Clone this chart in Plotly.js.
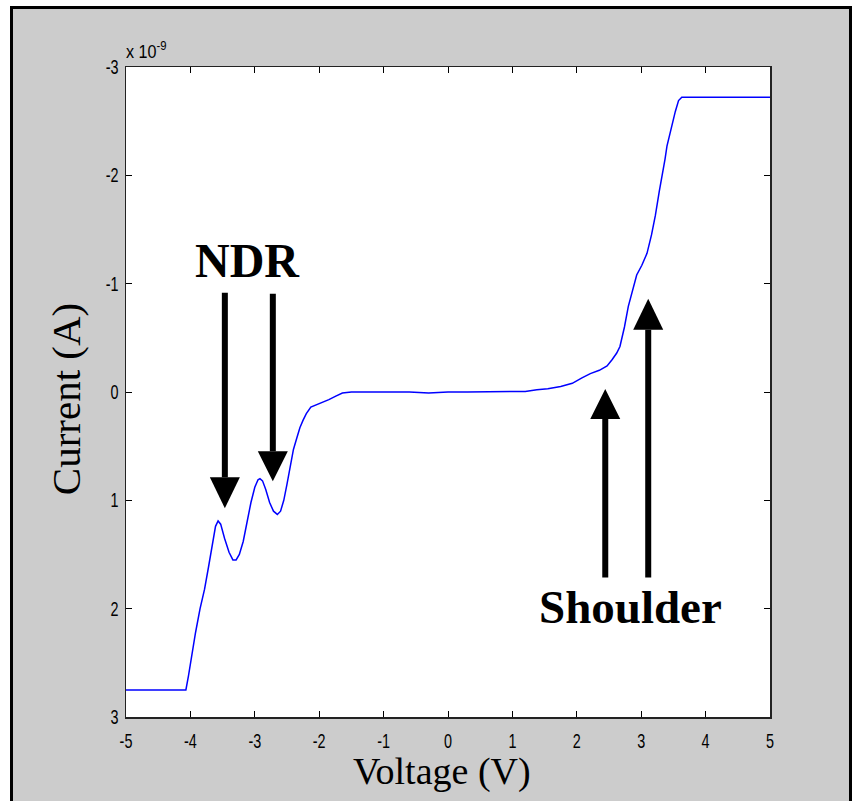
<!DOCTYPE html>
<html>
<head>
<meta charset="utf-8">
<script src="https://cdn.plot.ly/plotly-3.0.1.min.js"></script>
<style>
  html, body { margin: 0; padding: 0; background: #ffffff; width: 856px; height: 801px; overflow: hidden; }
  #frame { position: absolute; left: 10px; top: 6px; width: 836px; height: 800px;
           border-left: 3px solid #000; border-top: 3px solid #000; border-right: 3px solid #000;
           background: #cccccc; }
  #chart { position: absolute; left: 0; top: 0; width: 836px; height: 792px; }
</style>
</head>
<body>
<div id="frame"><div id="chart"></div></div>
<script>
// Voltage (V)
const voltage = [-5, -4.07, -4.03, -3.98, -3.92, -3.85, -3.78, -3.72, -3.66, -3.61, -3.57, -3.53, -3.47, -3.40, -3.34, -3.29, -3.24, -3.18, -3.12, -3.06, -3.0, -2.95, -2.92, -2.88, -2.83, -2.77, -2.71, -2.65, -2.60, -2.55, -2.50, -2.45, -2.40, -2.35, -2.30, -2.25, -2.20, -2.13, -2.05, -1.95, -1.85, -1.75, -1.64, -1.5, -1.2, -0.9, -0.6, -0.3, 0, 0.3, 0.6, 0.9, 1.2, 1.38, 1.55, 1.75, 1.93, 2.08, 2.21, 2.35, 2.47, 2.55, 2.62, 2.67, 2.74, 2.80, 2.87, 2.93, 3.01, 3.09, 3.16, 3.22, 3.28, 3.32, 3.37, 3.40, 3.47, 3.53, 3.58, 3.63, 5];
// Current (units of 1e-9 A)
const current = [2.75, 2.75, 2.62, 2.42, 2.22, 2.0, 1.82, 1.62, 1.39, 1.24, 1.19, 1.22, 1.35, 1.48, 1.55, 1.55, 1.50, 1.38, 1.20, 1.02, 0.88, 0.81, 0.80, 0.82, 0.90, 1.02, 1.10, 1.13, 1.10, 1.00, 0.85, 0.68, 0.53, 0.43, 0.33, 0.26, 0.20, 0.14, 0.12, 0.10, 0.07, 0.04, 0.01, 0.0, 0.0, 0.005, 0.0, 0.01, 0.0, 0.0, 0.0, 0.0, -0.005, -0.02, -0.03, -0.05, -0.08, -0.13, -0.17, -0.20, -0.24, -0.30, -0.36, -0.42, -0.60, -0.79, -0.95, -1.08, -1.17, -1.28, -1.45, -1.63, -1.85, -1.97, -2.15, -2.27, -2.45, -2.59, -2.69, -2.72, -2.72];

const xTicks = [-5, -4, -3, -2, -1, 0, 1, 2, 3, 4, 5];
const yTicks = [-3, -2, -1, 0, 1, 2, 3];

// Annotation arrows: [x, tail y, head base y, tip y]
const arrowX = [-3.465, -2.72, 2.442, 3.109];
const arrowTail = [-0.917, -0.907, 1.713, 1.713];
const arrowBase = [0.787, 0.546, 0.25, -0.574];
const arrowTip = [1.074, 0.824, -0.028, -0.861];
const headHalf = 0.233;

const shapes = [];
for (let i = 0; i < arrowX.length; i++) {
  shapes.push({type: 'line', xref: 'x', yref: 'y', x0: arrowX[i], x1: arrowX[i], y0: arrowTail[i], y1: arrowBase[i],
               line: {color: '#000', width: 6}});
  shapes.push({type: 'path', xref: 'x', yref: 'y',
               path: `M ${arrowX[i]-headHalf},${arrowBase[i]} L ${arrowX[i]+headHalf},${arrowBase[i]} L ${arrowX[i]},${arrowTip[i]} Z`,
               fillcolor: '#000', line: {color: '#000', width: 0}});
}

const sans = 'Liberation Sans, Arial, sans-serif';
const tickFont = {family: sans, size: 20, color: '#000'};
const serif = 'Liberation Serif, Times New Roman, serif';

const trace = {x: voltage, y: current, type: 'scatter', mode: 'lines',
               line: {color: '#0000ff', width: 1.5}, hoverinfo: 'skip'};

const layout = {
  width: 836, height: 792,
  paper_bgcolor: '#cccccc', plot_bgcolor: '#ffffff',
  margin: {l: 113, r: 79, t: 58, b: 84},
  showlegend: false,
  xaxis: {range: [-5, 5], tickvals: xTicks, ticktext: xTicks.map(String), ticks: 'inside', ticklen: 6,
          tickcolor: '#000', showline: true, linecolor: '#222', linewidth: 1.5, mirror: 'ticks',
          showgrid: false, zeroline: false, tickfont: tickFont, ticklabelstandoff: 6},
  yaxis: {range: [3, -3], tickvals: yTicks, ticktext: yTicks.map(String), ticks: 'inside', ticklen: 6,
          tickcolor: '#000', showline: true, linecolor: '#222', linewidth: 1.5, mirror: 'ticks',
          showgrid: false, zeroline: false, tickfont: tickFont, ticklabelstandoff: 2},
  shapes: shapes,
  annotations: [
    {text: 'x 10<sup>-9</sup>', xref: 'paper', yref: 'paper', x: 0, y: 1, xanchor: 'left', yanchor: 'bottom',
     xshift: -2, yshift: 3, showarrow: false, font: {family: sans, size: 19, color: '#000'}},
    {text: '<b>NDR</b>', xref: 'x', yref: 'y', x: -3.11, y: -1.21, showarrow: false,
     font: {family: serif, size: 48, color: '#000'}},
    {text: '<b>Shoulder</b>', xref: 'x', yref: 'y', x: 2.83, y: 1.98, showarrow: false,
     font: {family: serif, size: 47, color: '#000'}},
    // axis titles
    {text: 'Voltage (V)', xref: 'paper', yref: 'paper', x: 0.5, y: 0, xanchor: 'center', yanchor: 'middle',
     xshift: -6, yshift: -54, showarrow: false, font: {family: serif, size: 38, color: '#000'}},
    {text: 'Current (A)', xref: 'paper', yref: 'paper', x: 0, y: 0.489, xanchor: 'center', yanchor: 'middle',
     xshift: -60, textangle: -90, showarrow: false, font: {family: serif, size: 41, color: '#000'}}
  ]
};

function condense(nodes, s, anchor) {
  nodes.forEach(t => {
    const b = t.getBBox();
    const cx = anchor === 'left' ? b.x : anchor === 'right' ? b.x + b.width : b.x + b.width / 2;
    const prev = t.getAttribute('transform') || '';
    t.setAttribute('transform', (prev + ` matrix(${s},0,0,1,${cx * (1 - s)},0)`).trim());
  });
}

Plotly.newPlot('chart', [trace], layout, {displayModeBar: false, staticPlot: true}).then(() => {
  condense(document.querySelectorAll('.xtick text'), 0.72, 'center');
  condense(document.querySelectorAll('.ytick text'), 0.72, 'right');
  const ann = document.querySelectorAll('.annotation-text-g text');
  if (ann.length) condense([ann[0]], 0.85, 'left');
});
</script>
</body>
</html>
